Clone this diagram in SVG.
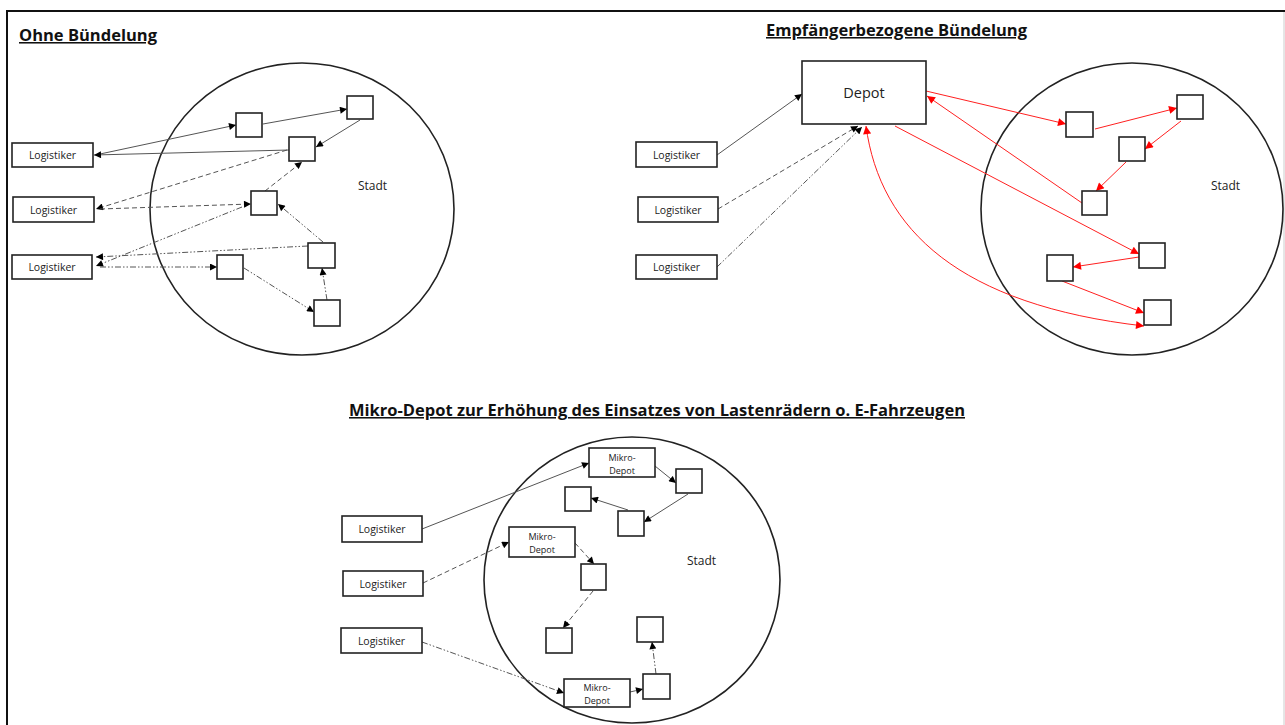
<svg xmlns="http://www.w3.org/2000/svg" width="1285" height="725" viewBox="0 0 1285 725">
<style>
.box{fill:#fff;stroke:#222;stroke-width:1.6}
.city{fill:none;stroke:#222;stroke-width:1.6}
.lbl{font-family:"Open Sans","Liberation Sans",Arial,sans-serif;font-size:10.5px;fill:#222;text-anchor:middle}
.sm{font-family:"Open Sans","Liberation Sans",Arial,sans-serif;font-size:9px;fill:#222;text-anchor:middle}
.title{font-family:"Open Sans","Liberation Sans",Arial,sans-serif;font-weight:bold;font-size:15.5px;fill:#111;text-decoration:underline}
.stadt{font-family:"Open Sans","Liberation Sans",Arial,sans-serif;font-size:12px;fill:#222}
.c{fill:none;stroke:#555;stroke-width:1;marker-end:url(#ab)}
.d{stroke-dasharray:5 3}
.dd{stroke-dasharray:6 2 1.5 2 1.5 2}
.r{fill:none;stroke:#ff2020;stroke-width:1;marker-end:url(#ar)}
</style>
<defs>
<marker id="ab" viewBox="0 0 10 10" refX="10" refY="5" markerWidth="9" markerHeight="7" markerUnits="userSpaceOnUse" orient="auto"><path d="M0,0 L10,5 L0,10z" fill="#000"/></marker>
<marker id="ar" viewBox="0 0 10 10" refX="10" refY="5" markerWidth="10" markerHeight="8" markerUnits="userSpaceOnUse" orient="auto-start-reverse"><path d="M0,0 L10,5 L0,10z" fill="#ff0000"/></marker>
</defs>
<rect width="1285" height="725" fill="#fff"/>
<g id="frame">
<line x1="6" y1="11" x2="1285" y2="11" stroke="#111" stroke-width="2"/>
<line x1="7" y1="10" x2="7" y2="725" stroke="#111" stroke-width="2"/>
<line x1="1284" y1="12" x2="1284" y2="725" stroke="#ccc" stroke-width="1"/>
</g>
<g id="titles">
<text class="title" x="19" y="41" textLength="138" lengthAdjust="spacingAndGlyphs">Ohne Bündelung</text>
<text class="title" x="766" y="36" textLength="261" lengthAdjust="spacingAndGlyphs">Empfängerbezogene Bündelung</text>
<text class="title" x="349" y="416" textLength="616" lengthAdjust="spacingAndGlyphs">Mikro-Depot zur Erhöhung des Einsatzes von Lastenrädern o. E-Fahrzeugen</text>
</g>
<g id="cities">
<ellipse class="city" cx="302" cy="209" rx="152" ry="146"/>
<ellipse class="city" cx="1132" cy="209" rx="151" ry="146"/>
<ellipse class="city" cx="632" cy="580" rx="148" ry="143"/>
<text class="stadt" x="358" y="190">Stadt</text>
<text class="stadt" x="1211" y="190">Stadt</text>
<text class="stadt" x="687" y="565">Stadt</text>
</g>
<g id="connectors">
<path class="c" d="M100,154 L236,125"/>
<path class="c" d="M263,124 L347,109"/>
<path class="c" d="M360,120 L316,147"/>
<path class="c" d="M289,150 L94,155"/>
<path class="c d" d="M287,150 L96,209"/>
<path class="c d" d="M100,209 L251,204"/>
<path class="c d" d="M265,191 L302,162"/>
<path class="c dd" d="M242,207 L96,266"/>
<path class="c dd" d="M308,246 L96,257"/>
<path class="c dd" d="M100,267 L217,267"/>
<path class="c dd" d="M244,268 L314,312"/>
<path class="c dd" d="M327,300 L322,268"/>
<path class="c dd" d="M323,242 L278,204"/>
<path class="c" d="M717,155 L802,94"/>
<path class="c d" d="M718,209 L858,126"/>
<path class="c dd" d="M717,267 L862,127"/>
<path class="r" d="M926,91 L1066,124"/>
<path class="r" d="M1095,129 L1177,108"/>
<path class="r" d="M1181,121 L1145,149"/>
<path class="r" d="M1126,162 L1096,191"/>
<path class="r" d="M1082,203 L927,96"/>
<path class="r" d="M895,126 L1139,254"/>
<path class="r" d="M1139,257 L1073,267"/>
<path class="r" d="M1062,281 L1144,313"/>
<path class="r" d="M866,126 C880,230 960,305 1144,326" marker-start="url(#ar)"/>
<path class="c" d="M422,529 L589,463"/>
<path class="c" d="M655,466 L676,483"/>
<path class="c" d="M688,494 L644,522"/>
<path class="c" d="M628,510 L591,498"/>
<path class="c d" d="M423,583 L509,542"/>
<path class="c d" d="M575,543 L594,564"/>
<path class="c d" d="M593,591 L563,628"/>
<path class="c dd" d="M422,642 L564,693"/>
<path class="c dd" d="M630,692 L643,689"/>
<path class="c dd" d="M656,674 L652,642"/>
</g>
<g id="p1-log1"><rect class="box" x="12" y="143" width="81" height="24"/><text class="lbl" x="52.5" y="159">Logistiker</text></g>
<g id="p1-log2"><rect class="box" x="13" y="197" width="81" height="25"/><text class="lbl" x="53.5" y="213.5">Logistiker</text></g>
<g id="p1-log3"><rect class="box" x="12" y="255" width="80" height="24"/><text class="lbl" x="52" y="271">Logistiker</text></g>
<g id="p1-a"><rect class="box" x="236" y="113" width="26" height="24"/></g>
<g id="p1-b"><rect class="box" x="347" y="96" width="26" height="23"/></g>
<g id="p1-c"><rect class="box" x="289" y="137" width="26" height="24"/></g>
<g id="p1-d"><rect class="box" x="251" y="191" width="26" height="24"/></g>
<g id="p1-e"><rect class="box" x="308" y="243" width="27" height="25"/></g>
<g id="p1-f"><rect class="box" x="217" y="255" width="26" height="24"/></g>
<g id="p1-g"><rect class="box" x="314" y="300" width="26" height="26"/></g>
<g id="p2-depot"><rect class="box" x="802" y="61" width="124" height="63"/><text class="lbl" x="864" y="98" style="font-size:14.5px">Depot</text></g>
<g id="p2-log1"><rect class="box" x="636" y="142" width="81" height="25"/><text class="lbl" x="676.5" y="158.5">Logistiker</text></g>
<g id="p2-log2"><rect class="box" x="638" y="197" width="80" height="25"/><text class="lbl" x="678" y="213.5">Logistiker</text></g>
<g id="p2-log3"><rect class="box" x="636" y="255" width="81" height="24"/><text class="lbl" x="676.5" y="271">Logistiker</text></g>
<g id="p2-a"><rect class="box" x="1066" y="112" width="27" height="25"/></g>
<g id="p2-b"><rect class="box" x="1177" y="95" width="26" height="24"/></g>
<g id="p2-c"><rect class="box" x="1119" y="137" width="26" height="24"/></g>
<g id="p2-d"><rect class="box" x="1082" y="191" width="25" height="24"/></g>
<g id="p2-e"><rect class="box" x="1139" y="243" width="26" height="25"/></g>
<g id="p2-f"><rect class="box" x="1047" y="255" width="26" height="26"/></g>
<g id="p2-g"><rect class="box" x="1144" y="300" width="27" height="25"/></g>
<g id="p3-log1"><rect class="box" x="342" y="516" width="80" height="26"/><text class="lbl" x="382" y="533">Logistiker</text></g>
<g id="p3-log2"><rect class="box" x="343" y="571" width="80" height="25"/><text class="lbl" x="383" y="587.5">Logistiker</text></g>
<g id="p3-log3"><rect class="box" x="341" y="628" width="81" height="25"/><text class="lbl" x="381.5" y="644.5">Logistiker</text></g>
<g id="p3-md1"><rect class="box" x="589" y="448" width="66" height="29"/><text class="sm" x="622" y="460.5">Mikro-</text><text class="sm" x="622" y="473.5">Depot</text></g>
<g id="p3-md2"><rect class="box" x="509" y="527" width="66" height="30"/><text class="sm" x="542" y="540">Mikro-</text><text class="sm" x="542" y="553">Depot</text></g>
<g id="p3-md3"><rect class="box" x="564" y="679" width="66" height="28"/><text class="sm" x="597" y="691">Mikro-</text><text class="sm" x="597" y="704">Depot</text></g>
<g id="p3-s1"><rect class="box" x="676" y="469" width="26" height="24"/></g>
<g id="p3-s2"><rect class="box" x="565" y="487" width="26" height="24"/></g>
<g id="p3-s3"><rect class="box" x="618" y="511" width="26" height="25"/></g>
<g id="p3-s4"><rect class="box" x="581" y="564" width="25" height="26"/></g>
<g id="p3-s5"><rect class="box" x="546" y="628" width="26" height="25"/></g>
<g id="p3-s6"><rect class="box" x="637" y="617" width="26" height="25"/></g>
<g id="p3-s7"><rect class="box" x="643" y="674" width="27" height="25"/></g>
</svg>
